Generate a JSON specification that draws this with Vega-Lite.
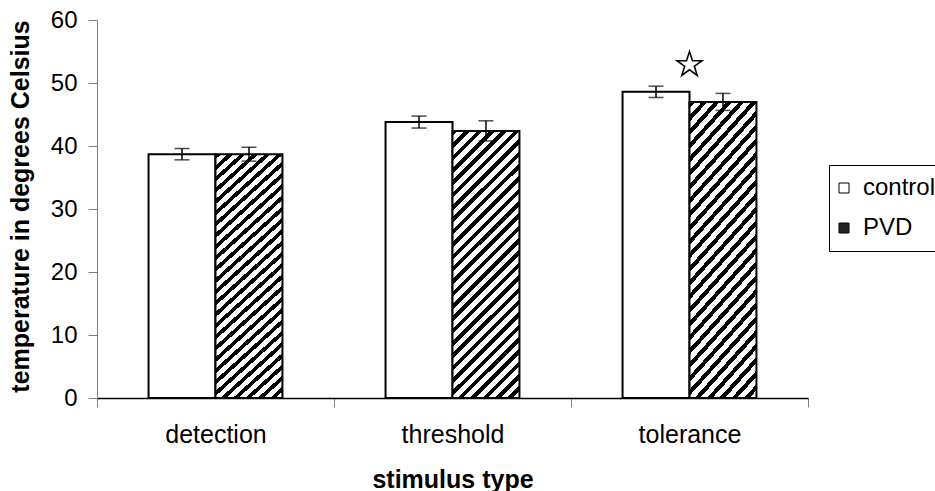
{
  "$schema": "https://vega.github.io/schema/vega-lite/v6.json",
  "autosize": "none",
  "width": 711,
  "height": 378,
  "padding": {"left": 97, "top": 20, "right": 127, "bottom": 93},
  "background": "white",
  "config": {
    "view": {"stroke": null},
    "font": "Liberation Sans",
    "axis": {"labelColor": "black", "titleColor": "black", "labelFont": "Liberation Sans", "titleFont": "Liberation Sans"}
  },
  "data": {
    "values": [
      {"stimulus": "detection", "group": "control", "value": 38.7, "lo": 37.8, "hi": 39.6},
      {"stimulus": "detection", "group": "PVD", "value": 38.7, "lo": 37.6, "hi": 39.8},
      {"stimulus": "threshold", "group": "control", "value": 43.8, "lo": 42.85, "hi": 44.75},
      {"stimulus": "threshold", "group": "PVD", "value": 42.4, "lo": 40.8, "hi": 44.0},
      {"stimulus": "tolerance", "group": "control", "value": 48.6, "lo": 47.7, "hi": 49.5},
      {"stimulus": "tolerance", "group": "PVD", "value": 47.0, "lo": 45.65, "hi": 48.35}
    ]
  },
  "encoding": {
    "x": {
      "field": "stimulus",
      "type": "nominal",
      "sort": ["detection", "threshold", "tolerance"],
      "scale": {"paddingInner": 0, "paddingOuter": 0},
      "axis": {
        "title": "stimulus type",
        "labelAngle": 0,
        "tickBand": "extent",
        "domainColor": "black",
        "domainWidth": 1.5,
        "tickColor": "#808080",
        "tickSize": 9,
        "labelFontSize": 25,
        "labelBaseline": "alphabetic",
        "labelPadding": 35,
        "titleFontSize": 25,
        "titleFontWeight": "bold",
        "titleBaseline": "alphabetic",
        "titleY": 89
      }
    }
  },
  "layer": [
    {
      "mark": {"type": "bar", "stroke": "black", "strokeWidth": 2},
      "encoding": {
        "xOffset": {"field": "group", "type": "nominal", "sort": ["control", "PVD"], "scale": {"paddingOuter": 0.77, "paddingInner": 0}},
        "y": {
          "field": "value",
          "type": "quantitative",
          "scale": {"domain": [0, 60], "nice": false},
          "axis": {
            "title": "temperature in degrees Celsius",
            "values": [0, 10, 20, 30, 40, 50, 60],
            "grid": false,
            "domainColor": "#808080",
            "domainWidth": 1,
            "tickColor": "#808080",
            "tickSize": 9,
            "labelFontSize": 24,
            "labelPadding": 11,
            "titleFontSize": 25,
            "titleFontWeight": "bold",
            "titleAngle": 270,
            "titleAlign": "center",
            "titleBaseline": "bottom",
            "titleX": -64,
            "titleY": 186
          }
        },
        "fill": {
          "condition": {
            "test": "datum.group === 'PVD'",
            "value": {
              "gradient": "linear", "x1": 0, "y1": 0, "x2": 0.294, "y2": 1.176,
              "stops": [
                {"offset": 0, "color": "black"}, {"offset": 0.0167, "color": "black"}, {"offset": 0.0167, "color": "white"}, {"offset": 0.037, "color": "white"},
                {"offset": 0.037, "color": "black"}, {"offset": 0.0537, "color": "black"}, {"offset": 0.0537, "color": "white"}, {"offset": 0.0741, "color": "white"},
                {"offset": 0.0741, "color": "black"}, {"offset": 0.0907, "color": "black"}, {"offset": 0.0907, "color": "white"}, {"offset": 0.1111, "color": "white"},
                {"offset": 0.1111, "color": "black"}, {"offset": 0.1278, "color": "black"}, {"offset": 0.1278, "color": "white"}, {"offset": 0.1481, "color": "white"},
                {"offset": 0.1481, "color": "black"}, {"offset": 0.1648, "color": "black"}, {"offset": 0.1648, "color": "white"}, {"offset": 0.1852, "color": "white"},
                {"offset": 0.1852, "color": "black"}, {"offset": 0.2019, "color": "black"}, {"offset": 0.2019, "color": "white"}, {"offset": 0.2222, "color": "white"},
                {"offset": 0.2222, "color": "black"}, {"offset": 0.2389, "color": "black"}, {"offset": 0.2389, "color": "white"}, {"offset": 0.2593, "color": "white"},
                {"offset": 0.2593, "color": "black"}, {"offset": 0.2759, "color": "black"}, {"offset": 0.2759, "color": "white"}, {"offset": 0.2963, "color": "white"},
                {"offset": 0.2963, "color": "black"}, {"offset": 0.313, "color": "black"}, {"offset": 0.313, "color": "white"}, {"offset": 0.3333, "color": "white"},
                {"offset": 0.3333, "color": "black"}, {"offset": 0.35, "color": "black"}, {"offset": 0.35, "color": "white"}, {"offset": 0.3704, "color": "white"},
                {"offset": 0.3704, "color": "black"}, {"offset": 0.387, "color": "black"}, {"offset": 0.387, "color": "white"}, {"offset": 0.4074, "color": "white"},
                {"offset": 0.4074, "color": "black"}, {"offset": 0.4241, "color": "black"}, {"offset": 0.4241, "color": "white"}, {"offset": 0.4444, "color": "white"},
                {"offset": 0.4444, "color": "black"}, {"offset": 0.4611, "color": "black"}, {"offset": 0.4611, "color": "white"}, {"offset": 0.4815, "color": "white"},
                {"offset": 0.4815, "color": "black"}, {"offset": 0.4981, "color": "black"}, {"offset": 0.4981, "color": "white"}, {"offset": 0.5185, "color": "white"},
                {"offset": 0.5185, "color": "black"}, {"offset": 0.5352, "color": "black"}, {"offset": 0.5352, "color": "white"}, {"offset": 0.5556, "color": "white"},
                {"offset": 0.5556, "color": "black"}, {"offset": 0.5722, "color": "black"}, {"offset": 0.5722, "color": "white"}, {"offset": 0.5926, "color": "white"},
                {"offset": 0.5926, "color": "black"}, {"offset": 0.6093, "color": "black"}, {"offset": 0.6093, "color": "white"}, {"offset": 0.6296, "color": "white"},
                {"offset": 0.6296, "color": "black"}, {"offset": 0.6463, "color": "black"}, {"offset": 0.6463, "color": "white"}, {"offset": 0.6667, "color": "white"},
                {"offset": 0.6667, "color": "black"}, {"offset": 0.6833, "color": "black"}, {"offset": 0.6833, "color": "white"}, {"offset": 0.7037, "color": "white"},
                {"offset": 0.7037, "color": "black"}, {"offset": 0.7204, "color": "black"}, {"offset": 0.7204, "color": "white"}, {"offset": 0.7407, "color": "white"},
                {"offset": 0.7407, "color": "black"}, {"offset": 0.7574, "color": "black"}, {"offset": 0.7574, "color": "white"}, {"offset": 0.7778, "color": "white"},
                {"offset": 0.7778, "color": "black"}, {"offset": 0.7944, "color": "black"}, {"offset": 0.7944, "color": "white"}, {"offset": 0.8148, "color": "white"},
                {"offset": 0.8148, "color": "black"}, {"offset": 0.8315, "color": "black"}, {"offset": 0.8315, "color": "white"}, {"offset": 0.8519, "color": "white"},
                {"offset": 0.8519, "color": "black"}, {"offset": 0.8685, "color": "black"}, {"offset": 0.8685, "color": "white"}, {"offset": 0.8889, "color": "white"},
                {"offset": 0.8889, "color": "black"}, {"offset": 0.9056, "color": "black"}, {"offset": 0.9056, "color": "white"}, {"offset": 0.9259, "color": "white"},
                {"offset": 0.9259, "color": "black"}, {"offset": 0.9426, "color": "black"}, {"offset": 0.9426, "color": "white"}, {"offset": 0.963, "color": "white"},
                {"offset": 0.963, "color": "black"}, {"offset": 0.9796, "color": "black"}, {"offset": 0.9796, "color": "white"}, {"offset": 1, "color": "white"}
              ]
            }
          },
          "field": "group",
          "type": "nominal",
          "sort": ["control", "PVD"],
          "scale": {"domain": ["control", "PVD"], "range": ["white", "#222222"]},
          "legend": {
            "title": null,
            "orient": "none",
            "legendX": 732,
            "legendY": 145,
            "strokeColor": "black",
            "fillColor": "white",
            "padding": 11,
            "symbolType": "square",
            "symbolSize": 100,
            "symbolOffset": -8,
            "symbolStrokeColor": "black",
            "symbolStrokeWidth": 1,
            "labelFontSize": 24,
            "labelFont": "Liberation Sans",
            "labelColor": "black",
            "labelOffset": 7,
            "labelLimit": 0,
            "rowPadding": 16,
            "encode": {
              "symbols": {
                "update": {
                  "stroke": {"value": "black"},
                  "strokeWidth": {"value": 1},
                  "size": {"value": 100},
                  "opacity": {"value": 1}
                }
              }
            }
          }
        }
      }
    },
    {
      "mark": {"type": "rule", "color": "black", "strokeWidth": 1.5},
      "encoding": {
        "xOffset": {"field": "group", "type": "nominal", "sort": ["control", "PVD"], "scale": {"paddingOuter": 0.77, "paddingInner": 0}},
        "y": {"field": "lo", "type": "quantitative"},
        "y2": {"field": "hi"}
      }
    },
    {
      "mark": {"type": "tick", "color": "black", "size": 15, "thickness": 1.5},
      "encoding": {
        "xOffset": {"field": "group", "type": "nominal", "sort": ["control", "PVD"], "scale": {"paddingOuter": 0.77, "paddingInner": 0}},
        "y": {"field": "lo", "type": "quantitative"}
      }
    },
    {
      "mark": {"type": "tick", "color": "black", "size": 15, "thickness": 1.5},
      "encoding": {
        "xOffset": {"field": "group", "type": "nominal", "sort": ["control", "PVD"], "scale": {"paddingOuter": 0.77, "paddingInner": 0}},
        "y": {"field": "hi", "type": "quantitative"}
      }
    },
    {
      "data": {"values": [{"stimulus": "tolerance", "value": 52.9}]},
      "mark": {
        "type": "point",
        "shape": "M0,-1 L0.2245,-0.309 L0.951,-0.309 L0.363,0.118 L0.588,0.809 L0,0.382 L-0.588,0.809 L-0.363,0.118 L-0.951,-0.309 L-0.2245,-0.309 Z",
        "size": 700,
        "filled": true,
        "fill": "white",
        "stroke": "black",
        "strokeWidth": 1.5,
        "opacity": 1
      },
      "encoding": {
        "y": {"field": "value", "type": "quantitative"}
      }
    }
  ]
}
